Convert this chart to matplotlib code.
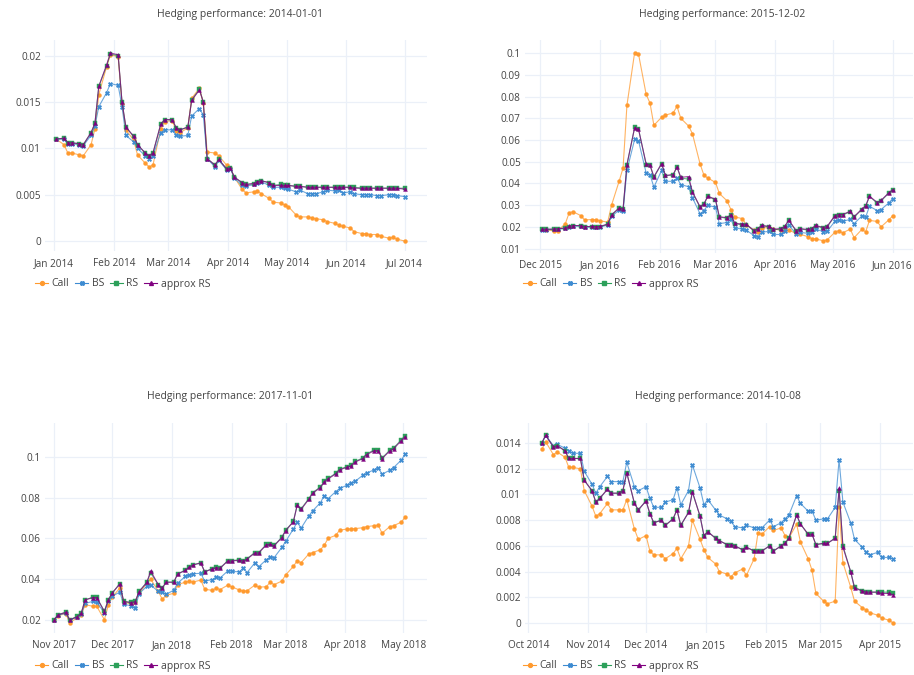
import matplotlib
matplotlib.use("Agg")
import matplotlib.pyplot as plt
import matplotlib.dates as mdates
from matplotlib.ticker import FixedLocator, FuncFormatter
import pandas as pd

# ---- data, sampled every 2nd business day ----
# panel 1: 2014-01-01
start_1 = "2014-01-02"
call_1 = [0.0110, 0.0104, 0.0095, 0.0095, 0.0093, 0.0092, 0.0104, 0.0121, 0.0158, 0.0188, 0.0201,
          0.0199, 0.0148, 0.0120, 0.0109, 0.0093, 0.0084, 0.0080, 0.0082, 0.0121, 0.0129,
          0.0130, 0.0119, 0.0117, 0.0122, 0.0154, 0.0165, 0.0149, 0.0096, 0.0095, 0.0092, 0.0082,
          0.0079, 0.0069, 0.0056, 0.0052, 0.0053, 0.0054, 0.0051, 0.0046, 0.0042, 0.0041, 0.0039,
          0.0037, 0.0028, 0.0026, 0.0026, 0.0025, 0.0024, 0.0023, 0.0021, 0.0019, 0.0017, 0.0016,
          0.0014, 0.0010, 0.0008, 0.0008, 0.0007, 0.0007, 0.0005, 0.0003, 0.0004, 0.0002,
          0.0000]
bs_1 = [0.0110, 0.0110, 0.0105, 0.0105, 0.0104, 0.0103, 0.0114, 0.0124, 0.0145, 0.0160, 0.0170,
        0.0168, 0.0145, 0.0114, 0.0107, 0.0100, 0.0092, 0.0089, 0.0092, 0.0117, 0.0120,
        0.0120, 0.0114, 0.0113, 0.0114, 0.0135, 0.0143, 0.0136, 0.0089, 0.0080, 0.0087, 0.0077,
        0.0078, 0.0068, 0.0060, 0.0059, 0.0061, 0.0063, 0.0064, 0.0060, 0.0058, 0.0058, 0.0057,
        0.0056, 0.0053, 0.0055, 0.0051, 0.0051, 0.0051, 0.0053, 0.0055, 0.0054, 0.0055, 0.0052,
        0.0053, 0.0051, 0.0050, 0.0050, 0.0050, 0.0049, 0.0049, 0.0050, 0.0050, 0.0049,
        0.0048]
rs_1 = [0.0110, 0.0111, 0.0106, 0.0106, 0.0105, 0.0104, 0.0117, 0.0127, 0.0167, 0.0189, 0.0202,
        0.0200, 0.0150, 0.0123, 0.0113, 0.0104, 0.0095, 0.0092, 0.0095, 0.0126, 0.0131,
        0.0131, 0.0122, 0.0120, 0.0123, 0.0152, 0.0164, 0.0150, 0.0089, 0.0082, 0.0088, 0.0078,
        0.0079, 0.0069, 0.0063, 0.0061, 0.0062, 0.0064, 0.0065, 0.0063, 0.0060, 0.0061, 0.0060,
        0.0060, 0.0059, 0.0059, 0.0058, 0.0058, 0.0058, 0.0058, 0.0058, 0.0058, 0.0058, 0.0058,
        0.0058, 0.0058, 0.0057, 0.0057, 0.0057, 0.0057, 0.0057, 0.0057, 0.0057, 0.0057,
        0.0057]
ars_1 = [0.0110, 0.0111, 0.0106, 0.0106, 0.0105, 0.0104, 0.0117, 0.0127, 0.0167, 0.0190, 0.0203,
         0.0201, 0.0150, 0.0123, 0.0113, 0.0104, 0.0095, 0.0092, 0.0095, 0.0126, 0.0131,
         0.0131, 0.0122, 0.0120, 0.0123, 0.0152, 0.0163, 0.0150, 0.0089, 0.0082, 0.0088, 0.0078,
         0.0079, 0.0069, 0.0063, 0.0061, 0.0062, 0.0064, 0.0065, 0.0063, 0.0060, 0.0060, 0.0060,
         0.0060, 0.0059, 0.0059, 0.0058, 0.0058, 0.0058, 0.0058, 0.0058, 0.0058, 0.0058, 0.0058,
         0.0058, 0.0057, 0.0057, 0.0057, 0.0057, 0.0057, 0.0057, 0.0057, 0.0057, 0.0057,
         0.0056]

# panel 2: 2015-12-02
start_2 = "2015-12-02"
call_2 = [0.0189, 0.0186, 0.0182, 0.0181, 0.0215, 0.0265, 0.0270, 0.0252, 0.0232, 0.0234, 0.0233,
          0.0228, 0.0222, 0.0300, 0.0412, 0.0472, 0.0760, 0.1003, 0.0997, 0.0810, 0.0770, 0.0668,
          0.0705, 0.0715, 0.0725, 0.0755, 0.0700, 0.0665, 0.0630, 0.0490, 0.0438, 0.0425,
          0.0405, 0.0354, 0.0320, 0.0280, 0.0246, 0.0238, 0.0210, 0.0184, 0.0178, 0.0195, 0.0197, 0.0190,
          0.0185, 0.0185, 0.0185, 0.0170, 0.0166, 0.0155, 0.0146, 0.0145, 0.0136, 0.0140,
          0.0175, 0.0183, 0.0172, 0.0190, 0.0150, 0.0188, 0.0177, 0.0230, 0.0225, 0.0200, 0.0232,
          0.0250]
bs_2 = [0.0187, 0.0187, 0.0188, 0.0189, 0.0193, 0.0199, 0.0204, 0.0203, 0.0199, 0.0199, 0.0199,
        0.0200, 0.0208, 0.0248, 0.0278, 0.0272, 0.0460, 0.0603, 0.0597, 0.0448, 0.0440, 0.0383,
        0.0460, 0.0410, 0.0410, 0.0425, 0.0395, 0.0385, 0.0335, 0.0260, 0.0275, 0.0300,
        0.0290, 0.0215, 0.0220, 0.0235, 0.0195, 0.0190, 0.0185, 0.0160, 0.0155, 0.0175, 0.0180, 0.0165,
        0.0165, 0.0180, 0.0210, 0.0165, 0.0175, 0.0170, 0.0175, 0.0190, 0.0178, 0.0180,
        0.0225, 0.0230, 0.0225, 0.0235, 0.0215, 0.0250, 0.0245, 0.0295, 0.0275, 0.0280, 0.0310,
        0.0330]
rs_2 = [0.0189, 0.0189, 0.0189, 0.0190, 0.0195, 0.0201, 0.0206, 0.0205, 0.0201, 0.0201, 0.0200,
        0.0201, 0.0212, 0.0255, 0.0288, 0.0283, 0.0486, 0.0658, 0.0652, 0.0486, 0.0483, 0.0429,
        0.0490, 0.0435, 0.0440, 0.0475, 0.0425, 0.0420, 0.0360, 0.0290, 0.0305, 0.0340,
        0.0325, 0.0245, 0.0240, 0.0255, 0.0215, 0.0210, 0.0210, 0.0182, 0.0190, 0.0205, 0.0200, 0.0187,
        0.0190, 0.0200, 0.0230, 0.0180, 0.0190, 0.0186, 0.0190, 0.0205, 0.0195, 0.0200,
        0.0250, 0.0255, 0.0255, 0.0270, 0.0245, 0.0280, 0.0295, 0.0340, 0.0310, 0.0320, 0.0355,
        0.0370]
ars_2 = [0.0189, 0.0189, 0.0190, 0.0191, 0.0195, 0.0202, 0.0206, 0.0206, 0.0201, 0.0202, 0.0201,
         0.0202, 0.0213, 0.0255, 0.0287, 0.0282, 0.0487, 0.0657, 0.0650, 0.0490, 0.0485, 0.0431,
         0.0492, 0.0437, 0.0441, 0.0477, 0.0428, 0.0432, 0.0362, 0.0292, 0.0306, 0.0342,
         0.0327, 0.0247, 0.0242, 0.0257, 0.0217, 0.0212, 0.0212, 0.0183, 0.0192, 0.0207, 0.0202, 0.0189,
         0.0192, 0.0202, 0.0232, 0.0182, 0.0192, 0.0188, 0.0192, 0.0207, 0.0197, 0.0202,
         0.0252, 0.0257, 0.0257, 0.0272, 0.0247, 0.0282, 0.0297, 0.0342, 0.0312, 0.0322, 0.0357,
         0.0371]

# panel 3: 2017-11-01
start_3 = "2017-11-01"
call_3 = [0.0200, 0.0220, 0.0230, 0.0184, 0.0211, 0.0222, 0.0274, 0.0266, 0.0266, 0.0200, 0.0270,
          0.0310, 0.0356, 0.0285, 0.0279, 0.0285, 0.0331, 0.0377, 0.0400, 0.0339, 0.0300, 0.0320,
          0.0330, 0.0372, 0.0385, 0.0388, 0.0385, 0.0395, 0.0350, 0.0344, 0.0356, 0.0348, 0.0370,
          0.0362, 0.0346, 0.0340, 0.0342, 0.0370, 0.0360, 0.0362, 0.0385, 0.0372, 0.0390,
          0.0420, 0.0462, 0.0490, 0.0480, 0.0523, 0.0530, 0.0544, 0.0565, 0.0600, 0.0615, 0.0640,
          0.0646, 0.0646, 0.0648, 0.0652, 0.0658, 0.0662, 0.0665, 0.0625, 0.0658, 0.0662, 0.0680,
          0.0705]
bs_3 = [0.0200, 0.0222, 0.0232, 0.0198, 0.0214, 0.0228, 0.0280, 0.0290, 0.0285, 0.0235, 0.0290,
        0.0315, 0.0336, 0.0275, 0.0269, 0.0258, 0.0328, 0.0364, 0.0370, 0.0339, 0.0335, 0.0325,
        0.0345, 0.0380, 0.0413, 0.0420, 0.0426, 0.0428, 0.0390, 0.0397, 0.0410, 0.0405, 0.0440,
        0.0438, 0.0435, 0.0454, 0.0432, 0.0479, 0.0460, 0.0495, 0.0508, 0.0505, 0.0555,
        0.0585, 0.0646, 0.0680, 0.0650, 0.0710, 0.0735, 0.0775, 0.0810, 0.0795, 0.0830, 0.0845,
        0.0862, 0.0872, 0.0880, 0.0910, 0.0920, 0.0938, 0.0948, 0.0915, 0.0935, 0.0948, 0.0985,
        0.1015]
rs_3 = [0.0200, 0.0225, 0.0237, 0.0200, 0.0216, 0.0233, 0.0298, 0.0310, 0.0310, 0.0241, 0.0298,
        0.0331, 0.0377, 0.0290, 0.0285, 0.0290, 0.0339, 0.0384, 0.0430, 0.0372, 0.0356, 0.0385,
        0.0385, 0.0426, 0.0443, 0.0460, 0.0470, 0.0480, 0.0436, 0.0451, 0.0457, 0.0454, 0.0490,
        0.0490, 0.0495, 0.0490, 0.0500, 0.0530, 0.0530, 0.0570, 0.0574, 0.0565, 0.0605,
        0.0640, 0.0683, 0.0765, 0.0745, 0.0795, 0.0825, 0.0852, 0.0880, 0.0895, 0.0920, 0.0940,
        0.0953, 0.0959, 0.0978, 0.0995, 0.1015, 0.1035, 0.1035, 0.0995, 0.1033, 0.1044, 0.1085,
        0.1105]
ars_3 = [0.0200, 0.0224, 0.0236, 0.0199, 0.0215, 0.0232, 0.0297, 0.0309, 0.0309, 0.0240, 0.0297,
         0.0330, 0.0376, 0.0289, 0.0284, 0.0289, 0.0338, 0.0383, 0.0440, 0.0371, 0.0355, 0.0384,
         0.0384, 0.0425, 0.0442, 0.0459, 0.0469, 0.0479, 0.0435, 0.0450, 0.0456, 0.0453, 0.0489,
         0.0488, 0.0493, 0.0488, 0.0498, 0.0528, 0.0528, 0.0568, 0.0572, 0.0563, 0.0603,
         0.0638, 0.0681, 0.0763, 0.0742, 0.0792, 0.0822, 0.0849, 0.0877, 0.0892, 0.0917, 0.0937,
         0.0950, 0.0956, 0.0975, 0.0992, 0.1012, 0.1031, 0.1031, 0.0992, 0.1030, 0.1041, 0.1080,
         0.1100]

# panel 4: 2014-10-08
start_4 = "2014-10-08"
call_4 = [0.0135, 0.0141, 0.0131, 0.0133, 0.0129, 0.0121, 0.0121, 0.0120, 0.0103,
          0.0091, 0.0083, 0.0085, 0.0093, 0.0088, 0.0088, 0.0088, 0.0096, 0.0073, 0.0065,
          0.0068, 0.0056, 0.0053, 0.0053, 0.0050, 0.0054, 0.0058, 0.0050, 0.0060, 0.0080, 0.0065, 0.0057,
          0.0051, 0.0046, 0.0040, 0.0038, 0.0036, 0.0039, 0.0042, 0.0037, 0.0050, 0.0070, 0.0069,
          0.0075, 0.0072, 0.0074, 0.0068, 0.0066, 0.0077, 0.0063, 0.0050, 0.0041, 0.0023,
          0.0017, 0.0015, 0.0017, 0.0090, 0.0047, 0.0028, 0.0017, 0.0012, 0.0010, 0.0008, 0.0006,
          0.0004, 0.0002, 0.0000]
bs_4 = [0.0140, 0.0146, 0.0138, 0.0139, 0.0136, 0.0134, 0.0132, 0.0132, 0.0118,
        0.0108, 0.0101, 0.0106, 0.0114, 0.0110, 0.0110, 0.0110, 0.0125, 0.0106, 0.0103,
        0.0106, 0.0097, 0.0090, 0.0090, 0.0094, 0.0096, 0.0105, 0.0092, 0.0103, 0.0123, 0.0105, 0.0092,
        0.0096, 0.0088, 0.0084, 0.0081, 0.0079, 0.0075, 0.0074, 0.0076, 0.0074, 0.0074, 0.0074,
        0.0080, 0.0075, 0.0078, 0.0081, 0.0084, 0.0099, 0.0093, 0.0087, 0.0087, 0.0080,
        0.0081, 0.0081, 0.0090, 0.0127, 0.0094, 0.0078, 0.0065, 0.0059, 0.0055, 0.0053, 0.0055,
        0.0051, 0.0051, 0.0050]
rs_4 = [0.0140, 0.0146, 0.0137, 0.0138, 0.0134, 0.0128, 0.0128, 0.0128, 0.0111,
        0.0103, 0.0094, 0.0097, 0.0104, 0.0101, 0.0101, 0.0103, 0.0117, 0.0093, 0.0088,
        0.0095, 0.0085, 0.0078, 0.0080, 0.0076, 0.0081, 0.0088, 0.0076, 0.0086, 0.0102, 0.0083, 0.0068,
        0.0071, 0.0066, 0.0064, 0.0061, 0.0061, 0.0060, 0.0057, 0.0059, 0.0056, 0.0056, 0.0056,
        0.0060, 0.0056, 0.0060, 0.0062, 0.0066, 0.0084, 0.0077, 0.0069, 0.0069, 0.0061,
        0.0062, 0.0062, 0.0066, 0.0103, 0.0060, 0.0040, 0.0028, 0.0025, 0.0024, 0.0024, 0.0024,
        0.0024, 0.0024, 0.0023]
ars_4 = [0.0140, 0.0146, 0.0137, 0.0138, 0.0134, 0.0128, 0.0128, 0.0128, 0.0111,
         0.0103, 0.0094, 0.0097, 0.0104, 0.0101, 0.0101, 0.0103, 0.0117, 0.0093, 0.0088,
         0.0095, 0.0085, 0.0078, 0.0080, 0.0076, 0.0081, 0.0088, 0.0076, 0.0086, 0.0102, 0.0083, 0.0068,
         0.0071, 0.0066, 0.0064, 0.0061, 0.0061, 0.0060, 0.0057, 0.0059, 0.0056, 0.0056, 0.0056,
         0.0060, 0.0056, 0.0060, 0.0062, 0.0066, 0.0084, 0.0077, 0.0069, 0.0069, 0.0061,
         0.0062, 0.0062, 0.0066, 0.0105, 0.0059, 0.0040, 0.0027, 0.0025, 0.0024, 0.0024, 0.0024,
         0.0023, 0.0023, 0.0022]

titles = ["Hedging performance: 2014-01-01", "Hedging performance: 2015-12-02",
          "Hedging performance: 2017-11-01", "Hedging performance: 2014-10-08"]
labels = ["Call", "BS", "RS", "approx RS"]

colors = ["#ff9a2e", "#3d8bd1", "#2ca05a", "#800080"]
markers = ["o", "X", "s", "^"]
GRID = "#ebf0f8"
TXT = "#444444"

plt.rcParams["font.family"] = ["Open Sans", "DejaVu Sans"]

W, H = 914, 675
fig = plt.figure(figsize=(W / 100, H / 100), dpi=100)


def px_axes(x0, y0, x1, y1):
    # pixel box (top-left origin) -> figure axes
    return fig.add_axes([x0 / W, 1 - y1 / H, (x1 - x0) / W, (y1 - y0) / H])


def draw(ax, start, series, ref, xr, ylim, yticks, first_month, title, title_xy, leg_xy):
    dates = pd.date_range(start, periods=len(series[0]), freq="2B")
    for vals, c, m, lab in zip(series, colors, markers, labels):
        ax.plot(dates, vals, color=c, lw=0.8, alpha=0.75)
        ax.plot(dates, vals, ls="none", marker=m, ms=2.8 if m != "X" else 3.2,
                color=c, mec=c, mew=0.3, label=lab)
    base = pd.Timestamp(ref)
    ax.set_xlim(base + pd.Timedelta(days=xr[0]), base + pd.Timedelta(days=xr[1]))
    ax.set_ylim(*ylim)
    months = pd.date_range(first_month, periods=7, freq="MS")
    ax.xaxis.set_major_locator(FixedLocator(mdates.date2num(months)))
    ax.xaxis.set_major_formatter(mdates.DateFormatter("%b %Y"))
    ax.yaxis.set_major_locator(FixedLocator(yticks))
    ax.yaxis.set_major_formatter(FuncFormatter(lambda v, p: "%g" % round(v, 4)))
    ax.grid(True, color=GRID, lw=0.9)
    ax.set_axisbelow(True)
    for s in ax.spines.values():
        s.set_visible(False)
    ax.tick_params(length=0, labelsize=7.2, colors=TXT)
    ax.tick_params(axis="x", pad=5)
    ax.tick_params(axis="y", pad=3)
    fig.text(title_xy[0] / W, 1 - title_xy[1] / H, title, ha="center", va="center",
             fontsize=7.5, color=TXT)
    # legend: line + marker handles
    handles = []
    for c, m, lab in zip(colors, markers, labels):
        h, = ax.plot([], [], color=c, lw=0.8, marker=m, ms=2.8, mec=c, label=lab)
        handles.append(h)
    fig.legend(handles=handles, labels=labels, loc="center left",
               bbox_to_anchor=(leg_xy[0] / W, 1 - leg_xy[1] / H), ncol=4, frameon=False,
               fontsize=7.5, handlelength=1.25, handletextpad=0.35, columnspacing=0.55,
               borderpad=0, borderaxespad=0, numpoints=1, labelcolor=TXT)


ax1 = px_axes(45, 40, 427, 251)
draw(ax1, start_1, [call_1, bs_1, rs_1, ars_1], "2014-01-01", (-4.8, 192.6),
     (-0.00108, 0.0217), [0, 0.005, 0.01, 0.015, 0.02], "2014-01-01",
     titles[0], (240, 14), (35, 284))

ax2 = px_axes(525, 40, 913, 253)
draw(ax2, start_2, [call_2, bs_2, rs_2, ars_2], "2015-12-01", (-7.95, 193.6),
     (0.00797, 0.1061), [0.01, 0.02, 0.03, 0.04, 0.05, 0.06, 0.07, 0.08, 0.09, 0.1],
     "2015-12-01", titles[1], (722, 14), (523, 284))

ax3 = px_axes(45, 423, 427, 633)
draw(ax3, start_3, [call_3, bs_3, rs_3, ars_3], "2017-11-01", (-4.8, 193.3),
     (0.01346, 0.1167), [0.02, 0.04, 0.06, 0.08, 0.1], "2017-11-01",
     titles[2], (230, 396), (35, 666))

ax4 = px_axes(525, 423, 913, 633)
draw(ax4, start_4, [call_4, bs_4, rs_4, ars_4], "2014-10-01", (-1.7, 199.3),
     (-0.000778, 0.01556), [0, 0.002, 0.004, 0.006, 0.008, 0.01, 0.012, 0.014],
     "2014-10-01", titles[3], (718, 396), (523, 666))

fig.savefig("out.png", dpi=100, facecolor="white")
